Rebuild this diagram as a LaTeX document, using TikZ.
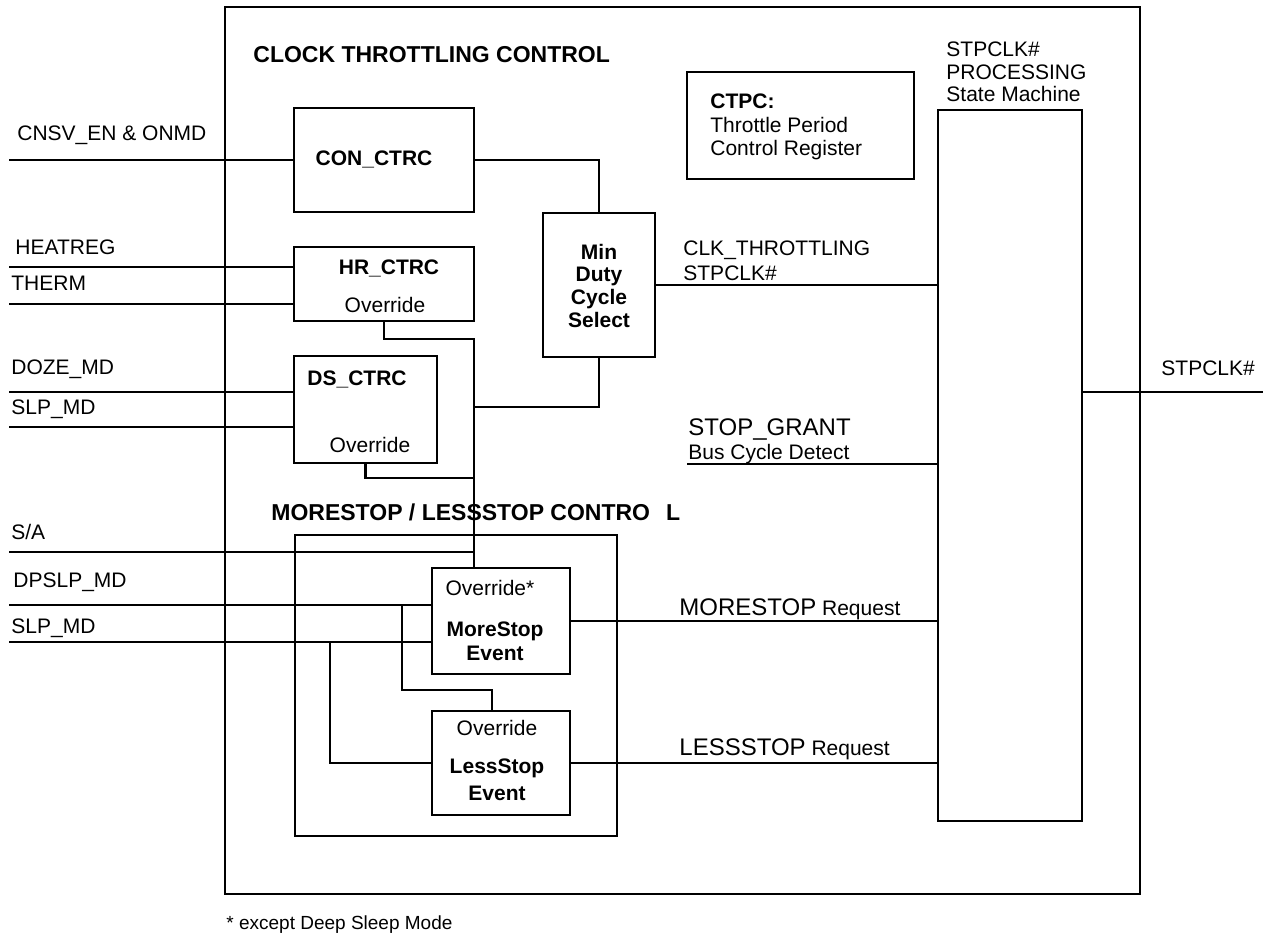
\documentclass[tikz,border=0pt]{standalone}
\usepackage{fontspec}
\setmainfont{Liberation Sans}
\usetikzlibrary{positioning,calc}

\begin{document}
\begin{tikzpicture}[x=0.5pt, y=-0.5pt, line width=1.4pt,
    blk/.style={draw, inner sep=0pt, outer sep=0pt},
    lbl/.style={inner sep=0pt, font=\fontsize{10.5}{12.6}\selectfont},
    blbl/.style={inner sep=0pt, font=\fontsize{10.5}{12.6}\selectfont\bfseries},
    head/.style={inner sep=0pt, font=\fontsize{11.5}{13.8}\selectfont\bfseries},
    big/.style={font=\fontsize{12}{14}\selectfont}]

    \useasboundingbox (0,0) rectangle (1263,935);

    \node[blk, minimum width=457.5pt, minimum height=443.5pt] (clk) at (682.5,450.5) {};
    \node[blk, minimum width=90pt, minimum height=52pt] (con) at (384,160) {};
    \node[blk, minimum width=90pt, minimum height=37pt] (hr) at (384,284) {};
    \node[blk, minimum width=71.5pt, minimum height=53.5pt] (ds) at (365.5,409.5) {};
    \node[blk, minimum width=56pt, minimum height=72pt] (mdc) at (599,285) {};
    \node[blk, minimum width=113.5pt, minimum height=53.5pt] (ctpc) at (800.5,125.5) {};
    \node[blk, minimum width=72pt, minimum height=355.5pt] (sm) at (1010,465.5) {};
    \node[blk, minimum width=161pt, minimum height=150.5pt] (msl) at (456,685.5) {};
    \node[blk, minimum width=69pt, minimum height=53pt] (more) at (501,621) {};
    \node[blk, minimum width=69pt, minimum height=52pt] (less) at (501,763) {};

    \node[head, anchor=base west] (clkT) at (252,63) {CLOCK THROTTLING CONTROL};
    \node[head, anchor=base west] (mslT) at (270,520) {MORESTOP / LESSSTOP CONTRO\hspace{8pt}L};
    \node[blbl, anchor=base] (conT) at (374,165.5) {CON\_CTRC};
    \node[blbl, anchor=base] (hrT) at (389,274.5) {HR\_CTRC};
    \node[lbl, anchor=base] (hrO) at (385,312.5) {Override};
    \node[blbl, anchor=base] (dsT) at (357,385.5) {DS\_CTRC};
    \node[lbl, anchor=base] (dsO) at (370,452.5) {Override};
    \node[blbl, anchor=north, align=center, font=\fontsize{10.5}{11.35}\selectfont\bfseries] (mdcT) at (599,242.5) {Min\\Duty\\Cycle\\Select};
    \node[lbl, anchor=north west, align=left, font=\fontsize{10.5}{11.75}\selectfont] (ctpcT) at (709,92.5) {\textbf{CTPC:}\\Throttle Period\\Control Register};
    \node[lbl, anchor=north west, align=left, font=\fontsize{10.5}{11.25}\selectfont] (smT) at (945,40.5) {STPCLK\#\\PROCESSING\\State Machine};
    \node[lbl, anchor=base] (moreO) at (490,595.5) {Override*};
    \node[blbl, anchor=north, align=center, font=\fontsize{10.5}{12}\selectfont\bfseries] (moreT) at (495,620.5) {MoreStop\\Event};
    \node[lbl, anchor=base] (lessO) at (497,735.5) {Override};
    \node[blbl, anchor=north, align=center, font=\fontsize{10.5}{13.5}\selectfont\bfseries] (lessT) at (497,757.5) {LessStop\\Event};

    \node[lbl, anchor=base west] (cnsvT) at (16,140.5) {CNSV\_EN \& ONMD};
    \node[lbl, anchor=base west] (heatT) at (14,254.5) {HEATREG};
    \node[lbl, anchor=base west] (thermT) at (10,290.5) {THERM};
    \node[lbl, anchor=base west] (dozeT) at (10,374.5) {DOZE\_MD};
    \node[lbl, anchor=base west] (slpT) at (10,414.5) {SLP\_MD};
    \node[lbl, anchor=base west] (saT) at (10,539.5) {S/A};
    \node[lbl, anchor=base west] (dpslpT) at (12,587.5) {DPSLP\_MD};
    \node[lbl, anchor=base west] (slpbT) at (10,633.5) {SLP\_MD};
    \node[lbl, anchor=north west, align=left, font=\fontsize{10.5}{12.5}\selectfont] (ctT) at (682,239.5) {CLK\_THROTTLING\\STPCLK\#};
    \node[lbl, big, anchor=base west] (sgT) at (687,435.6) {STOP\_GRANT};
    \node[lbl, anchor=base west] (bcdT) at (687,459.5) {Bus Cycle Detect};
    \node[lbl, anchor=base west] (mrT) at (678,615.6) {{\fontsize{12}{14}\selectfont MORESTOP} Request};
    \node[lbl, anchor=base west] (lrT) at (678,755.6) {{\fontsize{12}{14}\selectfont LESSSTOP} Request};
    \node[lbl, anchor=base west] (outT) at (1160,375.5) {STPCLK\#};
    \node[lbl, anchor=base west, font=\fontsize{9.5}{11}\selectfont] (noteT) at (225,929) {* except Deep Sleep Mode};

    \coordinate (cnsv) at (9,160);
    \coordinate (heat) at (9,267);
    \coordinate (therm) at (9,304);
    \coordinate (doze) at (9,392);
    \coordinate (slp) at (9,427);
    \coordinate (sa) at (9,552);
    \coordinate (dpslp) at (9,605);
    \coordinate (slpb) at (9,642);
    \coordinate (jn) at (474,339);
    \coordinate (mdj) at (474,407);
    \coordinate (dsj) at (474,478);
    \coordinate (saj) at (474,552);
    \coordinate (dpb) at (402,605);
    \coordinate (lb) at (492,690);
    \coordinate (slb) at (330,642);
    \coordinate (sg) at (687,464);
    \coordinate (out) at (1263,392);

    \draw (cnsv) -- (cnsv -| con.west);
    \draw (con.east) -| (mdc.north);
    \draw (heat) -- (heat -| hr.west);
    \draw (therm) -- (therm -| hr.west);
    \draw (doze) -- (doze -| ds.west);
    \draw (slp) -- (slp -| ds.west);
    \draw (hr.south) |- (jn) -- (jn |- more.north);
    \draw (mdc.south) |- (mdj);
    \draw (ds.south) |- (dsj);
    \draw (sa) -- (saj);
    \draw (dpslp) -- (dpslp -| more.west);
    \draw (slpb) -- (slpb -| more.west);
    \draw (dpb) |- (lb) -- (lb |- less.north);
    \draw (slb) |- (less.west);
    \draw (mdc.east) -- (mdc.east -| sm.west);
    \draw (sg) -- (sg -| sm.west);
    \draw (more.east) -- (more.east -| sm.west);
    \draw (less.east) -- (less.east -| sm.west);
    \draw (out -| sm.east) -- (out);
\end{tikzpicture}
\end{document}
